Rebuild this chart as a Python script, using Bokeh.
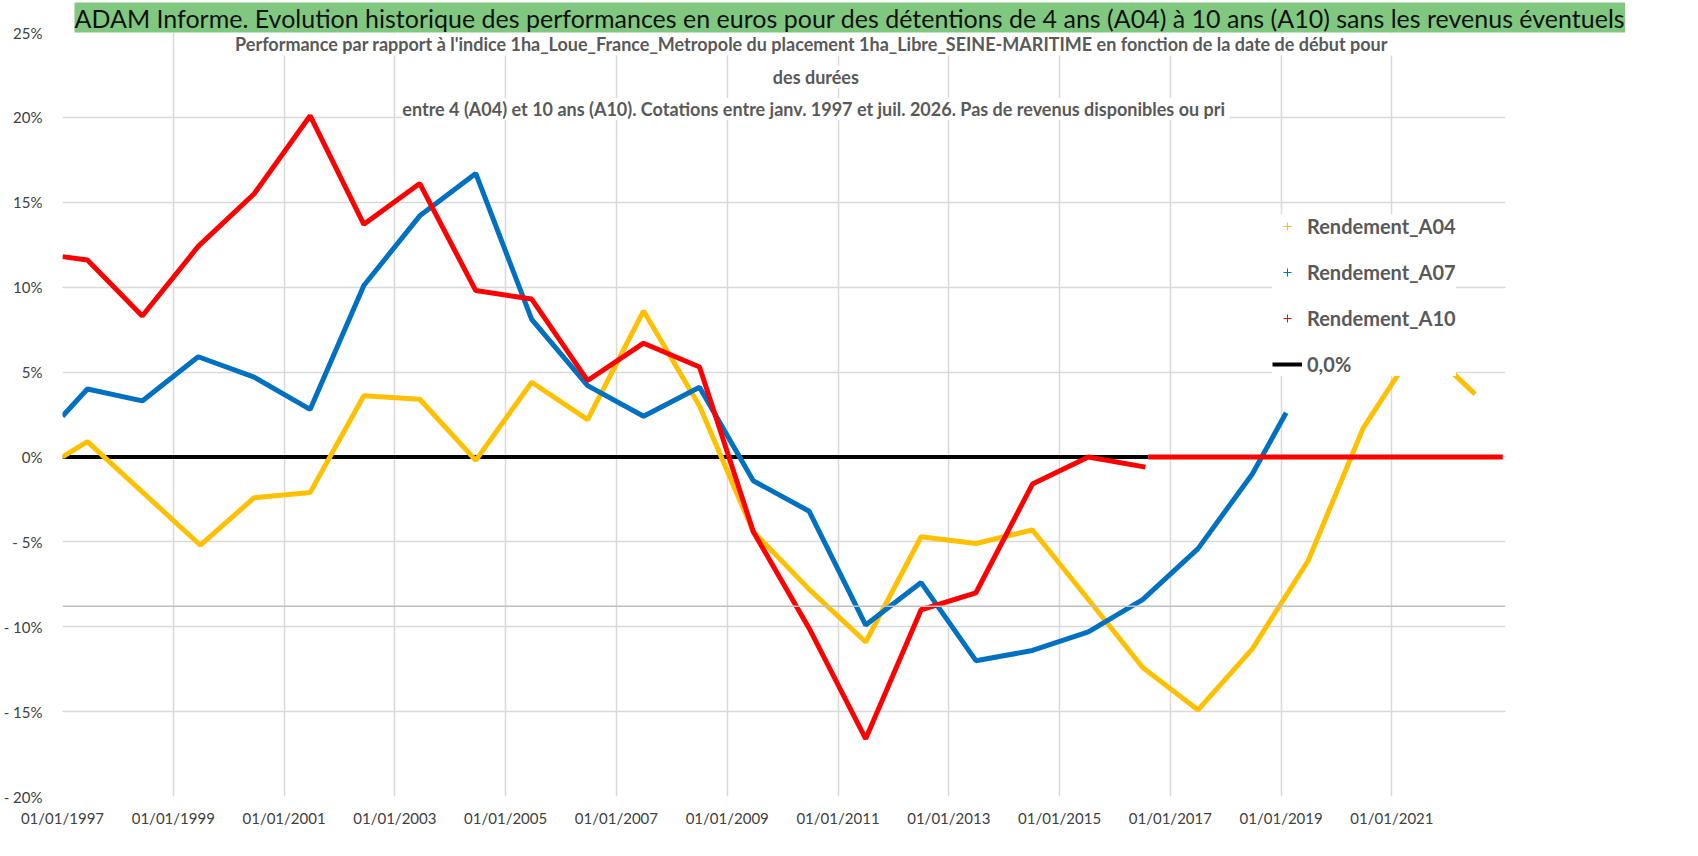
from bokeh.plotting import figure
from bokeh.models import (Legend, LegendItem, FixedTicker, CustomJSTickFormatter, Label, Span, Range1d, Title)
from bokeh.embed import file_html
from bokeh.resources import INLINE

a04_x = [1997.0, 1997.45, 1999.49, 2000.46, 2001.47, 2002.44, 2003.45, 2004.46, 2005.47, 2006.48, 2007.49, 2008.5, 2009.47, 2010.48, 2011.5, 2012.5, 2013.49, 2014.51, 2015.52, 2016.5, 2017.5, 2018.48, 2019.49, 2020.48, 2021.5, 2022.5]
a04_y = [0.0, 0.9, -5.2, -2.4, -2.1, 3.6, 3.4, -0.2, 4.4, 2.2, 8.6, 3.0, -4.4, -7.8, -10.9, -4.7, -5.1, -4.3, -8.4, -12.4, -14.9, -11.3, -6.1, 1.7, 6.8, 3.7]
a07_x = [1997.0, 1997.45, 1998.44, 1999.45, 2000.46, 2001.47, 2002.44, 2003.45, 2004.46, 2005.47, 2006.48, 2007.49, 2008.5, 2009.47, 2010.48, 2011.5, 2012.5, 2013.49, 2014.51, 2015.52, 2016.5, 2017.5, 2018.48, 2019.09]
a07_y = [2.4, 4.0, 3.3, 5.9, 4.7, 2.8, 10.1, 14.2, 16.7, 8.1, 4.2, 2.4, 4.1, -1.4, -3.2, -9.9, -7.4, -12.0, -11.4, -10.3, -8.4, -5.4, -1.0, 2.6]
a10_x = [1997.0, 1997.45, 1998.44, 1999.45, 2000.46, 2001.47, 2002.44, 2003.45, 2004.46, 2005.47, 2006.48, 2007.49, 2008.5, 2009.47, 2010.48, 2011.5, 2012.5, 2013.49, 2014.51, 2015.52, 2016.55]
a10_y = [11.8, 11.6, 8.3, 12.4, 15.5, 20.1, 13.7, 16.1, 9.8, 9.3, 4.5, 6.7, 5.3, -4.4, -10.1, -16.6, -9.0, -8.0, -1.6, 0.0, -0.6]
a10_tail_x = [2016.6, 2023.0]
a10_tail_y = [0.0, 0.0]
zero_x = [1997.0, 2016.6]
zero_y = [0.0, 0.0]
x_ticks = [1997, 1999, 2001, 2003, 2005, 2007, 2009, 2011, 2013, 2015, 2017, 2019, 2021]
y_ticks = [-20, -15, -10, -5, 0, 5, 10, 15, 20, 25]

YEL, BLU, RED = "#ffc000", "#0070c0", "#ff0000"
FONT = "Lato"

p = figure(width=1680, height=836, output_backend="svg", toolbar_location=None,
           x_range=Range1d(1997.0, 2023.05), y_range=Range1d(-20, 25),
           min_border_left=62, min_border_right=175, min_border_top=20, min_border_bottom=40)
p.title = Title(text="ADAM Informe. Evolution historique des performances en euros pour des détentions de 4 ans (A04) à 10 ans (A10) sans les revenus éventuels",
                text_font=FONT, text_font_size="25px", text_font_style="normal", text_color="#111111",
                background_fill_color="#80c880", offset=12, standoff=0)
p.outline_line_color = None
p.background_fill_color = "white"
p.grid.grid_line_color = "#d9d9d9"
p.grid.grid_line_width = 1.5
for ax in (p.xaxis[0], p.yaxis[0]):
    ax.axis_line_color = None
    ax.major_tick_line_color = None
    ax.minor_tick_line_color = None
    ax.major_label_text_font = FONT
    ax.major_label_text_font_size = "15px"
    ax.major_label_text_color = "#404040"
p.xaxis.ticker = FixedTicker(ticks=x_ticks)
p.xaxis.formatter = CustomJSTickFormatter(code="return '01/01/' + tick;")
p.xaxis.major_label_standoff = 6
p.yaxis.ticker = FixedTicker(ticks=y_ticks)
p.yaxis.formatter = CustomJSTickFormatter(code="return tick < 0 ? '- ' + Math.abs(tick) + '%' : tick + '%';")
p.yaxis.major_label_standoff = 14

p.add_layout(Span(location=-8.8, dimension="width", line_color="#bfbfbf", line_width=1.5))

p.line(zero_x, zero_y, color="black", line_width=4)
p.line(a04_x, a04_y, color=YEL, line_width=5)
p.line(a07_x, a07_y, color=BLU, line_width=5)
p.line(a10_x, a10_y, color=RED, line_width=5)
p.line(a10_tail_x, a10_tail_y, color=RED, line_width=5)

for txt, yv in [("Performance par rapport à l'indice 1ha_Loue_France_Metropole  du placement 1ha_Libre_SEINE-MARITIME  en fonction de la date de début pour", 24.3),
                ("des durées", 22.4),
                ("entre 4 (A04) et 10 ans (A10).  Cotations entre janv. 1997 et juil. 2026. Pas de revenus disponibles ou pri", 20.5)]:
    p.add_layout(Label(x=2010.6, y=yv, text=txt, text_align="center", text_baseline="middle",
                       text_font=FONT, text_font_size="18px", text_font_style="bold", text_color="#595959",
                       background_fill_color="white"))

r1 = p.scatter([1900], [0], marker="cross", color=YEL, size=9)
r2 = p.scatter([1900], [0], marker="cross", color=BLU, size=9)
r3 = p.scatter([1900], [0], marker="cross", color=RED, size=9)
r4 = p.line([1900, 1901], [0, 0], color="black", line_width=4)
leg = Legend(items=[LegendItem(label="Rendement_A04", renderers=[r1]),
                    LegendItem(label="Rendement_A07", renderers=[r2]),
                    LegendItem(label="Rendement_A10", renderers=[r3]),
                    LegendItem(label="0,0%", renderers=[r4])],
             location=(1210, 420), label_text_font=FONT, label_text_font_size="20px",
             label_text_color="#595959", label_text_font_style="bold", spacing=22,
             glyph_width=30, background_fill_alpha=1, border_line_color=None)
p.add_layout(leg, "center")

open("out.html", "w").write(file_html(p, INLINE))
